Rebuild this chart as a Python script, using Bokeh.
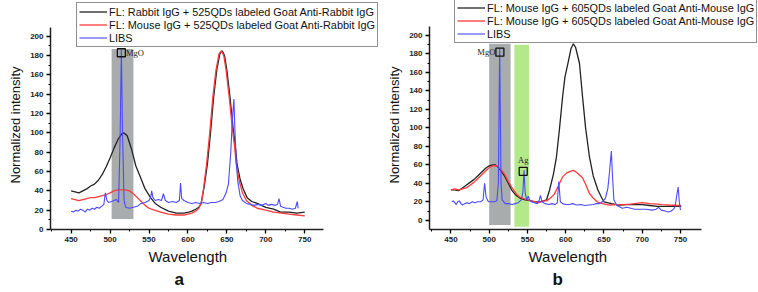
from bokeh.plotting import figure
from bokeh.layouts import row
from bokeh.models import Range1d, Legend, LegendItem, Title, FixedTicker
from bokeh.embed import file_html
from bokeh.resources import INLINE

# ---------------- Panel a data ----------------
a_fl1_wl = [450, 455, 460, 465, 470, 475, 480, 485, 490, 495, 500, 505, 510, 515, 518, 522, 528, 533, 539, 545,
            552, 558, 565, 575, 585, 595, 601, 605, 610, 614, 617, 621, 625, 629, 633, 637, 641, 644, 647, 650,
            654, 658, 661, 663, 667, 671, 676, 682, 689, 700, 710, 719, 730, 740, 750]
a_fl1_val = [40, 39, 38, 40, 42, 45, 47, 51, 57, 65, 74, 84, 93, 99, 100, 97, 82, 66, 54, 42,
             33, 27, 23, 19, 17, 17, 18, 19, 21, 23, 27, 45, 68, 100, 137, 165, 182, 185, 180, 165,
             137, 105, 85, 68, 52, 42, 33, 29, 27, 23, 21, 18, 18, 17, 18]

a_fl2_wl = [450, 455, 460, 465, 470, 475, 480, 485, 490, 495, 500, 505, 510, 515, 520, 525, 530, 535, 540, 545,
            550, 557, 565, 575, 585, 595, 600, 605, 610, 614, 617, 620, 624, 628, 632, 636, 640, 643, 646, 649,
            653, 657, 660, 662, 666, 670, 675, 682, 689, 700, 710, 720, 730, 740, 750]
a_fl2_val = [32, 31, 30, 31, 32, 33, 33, 34, 35, 36, 38, 40, 41, 41, 41, 40, 37, 33, 29, 25,
             22, 20, 18, 16, 15, 15, 16, 17, 19, 22, 27, 42, 68, 100, 137, 165, 182, 185, 180, 165,
             137, 105, 85, 68, 50, 38, 30, 25, 22, 20, 18, 17, 16, 15, 14]

a_libs_wl = [450, 453, 456, 459, 462, 465, 468, 471, 474, 477, 480, 483, 486, 489, 492, 494, 496, 498, 502, 505,
             508, 511, 513, 514.5, 516, 518, 520, 525, 530, 535, 540, 545, 550, 552, 553.5, 555, 558, 562, 566, 568.5,
             571, 575, 580, 585, 589, 590.5, 592, 595, 600, 605, 610, 615, 620, 625, 630, 635, 640, 645, 649, 652,
             655, 657, 659, 660.5, 662, 664, 667, 670, 675, 680, 685, 690, 695, 700, 703, 707, 712, 715, 717, 719,
             722, 726, 730, 734, 738, 740.5, 741.5]
a_libs_val = [19, 18, 20, 19, 21, 20, 18, 21, 20, 22, 21, 23, 22, 24, 26, 38, 30, 28, 29, 30,
              31, 28, 100, 186, 100, 30, 23, 22, 23, 24, 27, 28, 30, 33, 40, 33, 30, 31, 30, 37,
              30, 28, 29, 28, 30, 48, 32, 30, 28, 27, 28, 27, 28, 27, 28, 28, 29, 31, 38, 47,
              80, 113, 135, 100, 70, 50, 35, 30, 27, 26, 25, 26, 25, 27, 25, 26, 25, 26, 32, 24,
              23, 22, 22, 21, 22, 29, 22]

# ---------------- Panel b data ----------------
b_fl1_wl = [450, 455, 460, 465, 470, 475, 480, 485, 490, 495, 500, 505, 508, 512, 516, 520, 525, 530, 535, 540,
            547, 555, 560, 567, 575, 579, 584, 588, 592, 596, 599, 603, 607, 610, 613, 618, 622, 626, 631, 636,
            642, 646, 650, 660, 670, 680, 690, 700, 710, 720, 726, 735, 745, 751]
b_fl1_val = [33, 33, 32, 35, 38, 41, 44, 48, 52, 56, 59, 60, 60, 57, 53, 48, 40, 32, 27, 24,
             22, 21, 20, 20, 22, 33, 50, 69, 100, 134, 155, 170, 186, 191, 187, 170, 134, 100, 69, 48,
             33, 26, 20, 18, 16.5, 17, 17, 17, 16, 15, 15, 15, 15, 15]

b_fl2_wl = [450, 455, 460, 465, 470, 475, 480, 485, 490, 495, 500, 505, 510, 515, 520, 525, 530, 535, 540, 547,
            555, 560, 565, 570, 575, 580, 585, 588, 592, 596, 601, 606, 610, 614, 618, 622, 626, 631, 636, 641,
            648, 657, 665, 675, 685, 695, 700, 710, 720, 726, 735, 745, 751]
b_fl2_val = [33, 34, 33, 34, 35, 38, 41, 45, 49, 53, 57, 59, 59, 55, 50, 42, 35, 29, 25, 23,
             21, 20, 19, 21, 21, 24, 28, 33, 40, 47, 51, 53, 54, 52, 49, 46, 39, 29, 24, 20,
             18, 16.5, 17, 17, 17.5, 18.5, 19, 18, 17.5, 17, 16.5, 16, 16]

b_libs_wl = [451, 453, 455, 457, 459, 461, 463, 465, 468, 471, 474, 478, 481, 485, 489, 492, 494, 496, 499, 503,
             507, 510, 512, 513.7, 515.5, 517, 521, 525, 530, 534, 538, 542, 544, 545.6, 547, 549, 551, 553, 555, 559,
             563, 565.5, 567, 569, 573, 578, 582, 586, 589, 591, 593, 596, 600, 605, 609, 614, 620, 625, 630, 636,
             640, 644, 648, 652, 655, 657, 659.7, 661, 663, 667, 674, 680, 690, 700, 705, 713, 718, 721.5, 725, 730,
             734, 738, 741, 743, 745, 747, 748.5, 750]
b_libs_val = [20, 21, 19, 17, 20, 21, 18, 16.5, 18, 19, 18, 20, 19, 20, 20, 22, 40, 25, 20, 20,
              20, 21, 40, 186, 40, 22, 18, 18, 17, 18, 19, 22, 30, 54, 30, 22, 26, 22, 20, 19,
              18, 22, 27, 20, 18, 17, 18, 17, 19, 42, 20, 18, 17, 17, 18, 16.5, 17, 16, 16.5, 17,
              18, 18, 20, 24, 34, 50, 75, 50, 22, 16, 13, 14, 12, 12, 12, 11, 12, 14, 11, 10,
              9, 10, 12, 15, 26, 36, 20, 11]

# ---------------- Labels ----------------
a_labels = ["FL: Rabbit IgG + 525QDs labeled Goat Anti-Rabbit IgG",
            "FL: Mouse IgG + 525QDs labeled Goat Anti-Rabbit IgG",
            "LIBS"]
b_labels = ["FL: Mouse IgG + 605QDs labeled Goat Anti-Mouse IgG",
            "FL: Mouse IgG + 605QDs labeled Goat Anti-Mouse IgG",
            "LIBS"]
x_ticks = [450, 500, 550, 600, 650, 700, 750]
y_ticks = [0, 20, 40, 60, 80, 100, 120, 140, 160, 180, 200]
x_title = "Wavelength"
y_title = "Normalized intensity"

# axis extents (data units)
a_x_axis = (423.5, 774)
a_y_axis = (0, 209)
b_x_axis = (422, 777)
b_y_axis = (-10, 210)

# annotation bands (wavelength ranges) and marker boxes
a_gray_band = (502, 530, 11, 187)
b_gray_band = (500, 528, -5, 191)
b_green_band = (533, 552, -7, 190)
a_mgo = (514.5, 183)
b_mgo = (514, 182)
b_ag = (544.5, 53)

BLACK = "#222222"
RED = "#ff3a3a"
BLUE = "#4a4aff"
FONT = "Liberation Sans"


def make_panel(xr, yr, xb, yb, border_left, letter, off_xt, off_letter, off_yt):
    p = figure(width=379, height=292, x_range=Range1d(*xr), y_range=Range1d(*yr),
               output_backend="svg", toolbar_location=None,
               min_border_left=border_left, min_border_right=0,
               min_border_top=0, min_border_bottom=63)
    p.outline_line_color = None
    p.grid.grid_line_color = None
    p.background_fill_color = "white"
    p.border_fill_color = "white"
    for ax in (p.xaxis[0], p.yaxis[0]):
        ax.axis_line_width = 1.5
        ax.axis_line_color = "#222222"
        ax.major_tick_line_width = 1.3
        ax.minor_tick_line_width = 1
        ax.major_tick_out = 4
        ax.major_tick_in = 0
        ax.minor_tick_out = 2
        ax.minor_tick_in = 0
        ax.major_label_text_font = FONT
        ax.major_label_text_font_size = "8px"
        ax.major_label_text_font_style = "bold"
        ax.major_label_text_color = "#222222"
        ax.major_label_standoff = 3
    p.xaxis[0].bounds = xb
    p.yaxis[0].bounds = yb
    p.xaxis[0].ticker = FixedTicker(ticks=x_ticks, minor_ticks=[w + 25 for w in x_ticks[:-1]] + [425])
    p.yaxis[0].ticker = FixedTicker(ticks=y_ticks, minor_ticks=[v + 10 for v in y_ticks[:-1]])
    p.add_layout(Title(text=x_title, align="left", offset=off_xt, text_font=FONT, text_font_size="15px",
                       text_font_style="normal", text_color="#111111", standoff=3), "below")
    p.add_layout(Title(text=letter, align="left", offset=off_letter, text_font=FONT, text_font_size="17px",
                       text_font_style="bold", text_color="#111111", standoff=2), "below")
    p.add_layout(Title(text=y_title, align="left", offset=off_yt, text_font=FONT, text_font_size="13px",
                       text_font_style="normal", text_color="#111111", standoff=10), "left")
    return p


def make_legend(items, loc):
    return Legend(items=items, location=loc, border_line_color="#222222", border_line_width=1,
                  background_fill_alpha=1, label_text_font=FONT, label_text_font_size="10.9px",
                  label_text_color="#111111", glyph_width=28, glyph_height=13, label_height=13,
                  label_standoff=2, spacing=0, padding=2, margin=0)


# ---------------- Panel a ----------------
# frame spans x 50..379 px and y 0..229 px; axis lines limited by bounds
pa = make_panel((423.5, 846), (0, 237.1), a_x_axis, a_y_axis, 50, "a", 98, 124, 46)
g = a_gray_band
pa.quad(left=[g[0]], right=[g[1]], bottom=[g[2]], top=[g[3]], fill_color="#9fa3a3", fill_alpha=0.9, line_color=None)
ra1 = pa.line(a_fl1_wl, a_fl1_val, line_color=BLACK, line_width=1.3)
ra2 = pa.line(a_fl2_wl, a_fl2_val, line_color=RED, line_width=1.3)
ra3 = pa.line(a_libs_wl, a_libs_val, line_color=BLUE, line_width=1.1)
pa.scatter([a_mgo[0]], [a_mgo[1]], marker="square", size=8, fill_color=None, line_color="#111111", line_width=1.3)
pa.text([a_mgo[0] + 6], [a_mgo[1]], text=["MgO"], text_font_size="8.5px", text_baseline="middle",
        text_color="#222222", text_font={"value": "Liberation Serif"})
pa.add_layout(make_legend([LegendItem(label=a_labels[0], renderers=[ra1]),
                           LegendItem(label=a_labels[1], renderers=[ra2]),
                           LegendItem(label=a_labels[2], renderers=[ra3])], (26, 182)))

# ---------------- Panel b ----------------
pb = make_panel((422, 852), (-10, 237.9), b_x_axis, b_y_axis, 46, "b", 99, 123, 46)
g = b_gray_band
pb.quad(left=[g[0]], right=[g[1]], bottom=[g[2]], top=[g[3]], fill_color="#9fa3a3", fill_alpha=0.9, line_color=None)
g = b_green_band
pb.quad(left=[g[0]], right=[g[1]], bottom=[g[2]], top=[g[3]], fill_color="#b3e98a", fill_alpha=1, line_color=None)
rb1 = pb.line(b_fl1_wl, b_fl1_val, line_color=BLACK, line_width=1.3)
rb2 = pb.line(b_fl2_wl, b_fl2_val, line_color=RED, line_width=1.3)
rb3 = pb.line(b_libs_wl, b_libs_val, line_color=BLUE, line_width=1.1)
pb.scatter([b_mgo[0], b_ag[0]], [b_mgo[1], b_ag[1]], marker="square", size=8, fill_color=None,
           line_color="#111111", line_width=1.3)
pb.text([b_mgo[0] - 6], [b_mgo[1]], text=["MgO"], text_font_size="8.5px", text_baseline="middle",
        text_align="right", text_color="#222222", text_font={"value": "Liberation Serif"})
pb.text([b_ag[0]], [b_ag[1] + 7], text=["Ag"], text_font_size="8.5px", text_baseline="bottom",
        text_align="center", text_color="#222222", text_font={"value": "Liberation Serif"})
pb.add_layout(make_legend([LegendItem(label=b_labels[0], renderers=[rb1]),
                           LegendItem(label=b_labels[1], renderers=[rb2]),
                           LegendItem(label=b_labels[2], renderers=[rb3])], (25, 186)))

layout = row(pa, pb)
open("out.html", "w").write(file_html(layout, INLINE))
